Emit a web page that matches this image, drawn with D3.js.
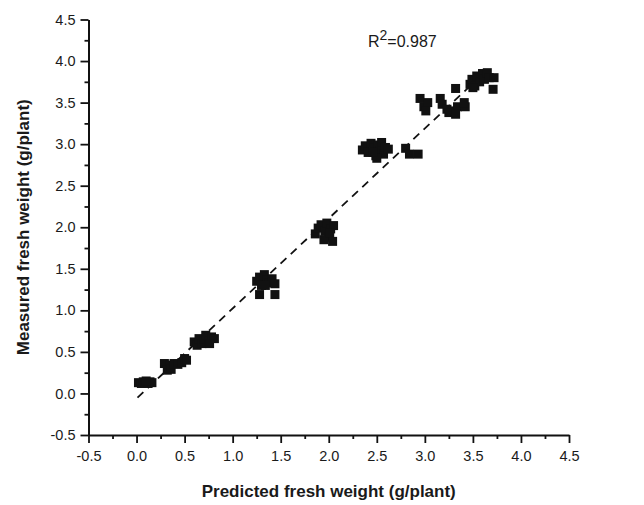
<!DOCTYPE html>
<html>
<head>
<meta charset="utf-8">
<script src="https://cdn.jsdelivr.net/npm/d3@7"></script>
<style>
  body { margin: 0; background: #fff; }
  svg { display: block; font-family: "Liberation Sans", Arial, sans-serif; }
</style>
</head>
<body>
<svg id="chart"></svg>
<script>
// Data (predicted vs measured fresh weight, g/plant)
const predicted = [
  0.02, 0.05, 0.07, 0.09, 0.12, 0.14, 0.16, 0.10,
  0.29, 0.32, 0.35, 0.36, 0.39, 0.43, 0.47, 0.50, 0.52,
  0.60, 0.63, 0.65, 0.68, 0.70, 0.72, 0.75, 0.78, 0.81, 0.76,
  1.25, 1.28, 1.30, 1.33, 1.36, 1.38, 1.41, 1.44, 1.28, 1.44, 1.34,
  1.86, 1.89, 1.92, 1.96, 1.98, 2.00, 2.02, 2.04, 2.05, 1.95, 2.01,
  2.35, 2.38, 2.41, 2.44, 2.47, 2.49, 2.51, 2.53, 2.55, 2.57, 2.59, 2.62, 2.50, 2.46,
  2.80, 2.84, 2.93,
  2.95, 2.99, 3.03, 3.01, 3.16, 3.18, 3.23, 3.28, 3.34, 3.25, 3.32, 3.42, 3.41,
  3.32, 3.47, 3.49, 3.52, 3.54, 3.57, 3.60, 3.62, 3.65, 3.67, 3.72, 3.71, 3.50
];
const measured = [
  0.13, 0.12, 0.14, 0.13, 0.12, 0.14, 0.13, 0.15,
  0.36, 0.28, 0.34, 0.29, 0.36, 0.35, 0.37, 0.42, 0.40,
  0.62, 0.58, 0.66, 0.60, 0.65, 0.70, 0.63, 0.68, 0.66, 0.60,
  1.35, 1.40, 1.30, 1.43, 1.37, 1.33, 1.38, 1.32, 1.19, 1.19, 1.30,
  1.92, 1.99, 2.03, 1.95, 2.05, 1.88, 1.98, 1.83, 2.02, 1.85, 1.93,
  2.93, 2.98, 2.90, 3.01, 2.95, 2.86, 2.99, 2.92, 3.02, 2.88, 2.96, 2.94, 2.83, 2.90,
  2.95, 2.88, 2.88,
  3.55, 3.45, 3.50, 3.40, 3.55, 3.48, 3.42, 3.40, 3.45, 3.38, 3.36, 3.45, 3.50,
  3.67, 3.72, 3.78, 3.70, 3.82, 3.75, 3.85, 3.78, 3.86, 3.80, 3.80, 3.66, 3.68
];

// Fitted line end points
const fitX = [0.01, 3.49];
const fitY = [-0.05, 3.72];

const majorTicks = [-0.5, 0.0, 0.5, 1.0, 1.5, 2.0, 2.5, 3.0, 3.5, 4.0, 4.5];
const minorTicks = [-0.25, 0.25, 0.75, 1.25, 1.75, 2.25, 2.75, 3.25, 3.75, 4.25];

const W = 644, H = 505;
const plotLeft = 88.5, plotRight = 569, plotTop = 19.5, plotBottom = 435;

const svg = d3.select("#chart").attr("width", W).attr("height", H);

const x = d3.scaleLinear().domain([-0.5, 4.5]).range([plotLeft, plotRight]);
const y = d3.scaleLinear().domain([-0.5, 4.5]).range([plotBottom, plotTop]);

// plain hyphen for negatives, as in the original
const fmt = d => d3.format(".1f")(d).replace("\u2212", "-");

// Axes: major ticks with labels, minor ticks without
svg.append("g").attr("transform", `translate(0,${plotBottom})`)
    .call(d3.axisBottom(x).tickValues(majorTicks).tickSize(8).tickSizeOuter(0).tickPadding(8)
      .tickFormat(fmt));
svg.append("g").attr("transform", `translate(0,${plotBottom})`)
    .call(d3.axisBottom(x).tickValues(minorTicks).tickSize(4).tickSizeOuter(0).tickFormat(""))
    .select(".domain").remove();

svg.append("g").attr("transform", `translate(${plotLeft},0)`)
    .call(d3.axisLeft(y).tickValues(majorTicks).tickSize(8).tickSizeOuter(0).tickPadding(5)
      .tickFormat(fmt));
svg.append("g").attr("transform", `translate(${plotLeft},0)`)
    .call(d3.axisLeft(y).tickValues(minorTicks).tickSize(4).tickSizeOuter(0).tickFormat(""))
    .select(".domain").remove();

svg.selectAll(".domain").attr("stroke", "#111").attr("stroke-width", 2);
svg.selectAll(".tick line").attr("stroke", "#111").attr("stroke-width", 1.8);
svg.selectAll(".tick text")
    .attr("fill", "#1a1a1a")
    .style("font-size", "14.5px")
    .style("font-family", "Liberation Sans, Arial, sans-serif");

// Dashed fit line
svg.append("line")
    .attr("x1", x(fitX[0])).attr("y1", y(fitY[0]))
    .attr("x2", x(fitX[1])).attr("y2", y(fitY[1]))
    .attr("stroke", "#111")
    .attr("stroke-width", 1.8)
    .attr("stroke-dasharray", "8,6");

// Square markers
const s = 9;
svg.append("g").selectAll("rect")
    .data(predicted.map((p, i) => ({ p, m: measured[i] })))
    .enter().append("rect")
    .attr("x", d => x(d.p) - s / 2)
    .attr("y", d => y(d.m) - s / 2)
    .attr("width", s)
    .attr("height", s)
    .attr("fill", "#111");

// R^2 annotation
const r2 = svg.append("text")
    .attr("x", 368).attr("y", 47)
    .attr("fill", "#1a1a1a")
    .style("font-size", "16px");
r2.append("tspan").text("R");
r2.append("tspan").attr("dy", -7).style("font-size", "14px").text("2");
r2.append("tspan").attr("dy", 7).text("=0.987");

// Axis titles
svg.append("text")
    .attr("x", (plotLeft + plotRight) / 2).attr("y", 497)
    .attr("text-anchor", "middle")
    .attr("fill", "#1a1a1a")
    .style("font-size", "17px").style("font-weight", "bold")
    .text("Predicted fresh weight (g/plant)");

svg.append("text")
    .attr("transform", `translate(29,${(plotTop + plotBottom) / 2}) rotate(-90)`)
    .attr("text-anchor", "middle")
    .attr("fill", "#1a1a1a")
    .style("font-size", "17px").style("font-weight", "bold")
    .text("Measured fresh weight (g/plant)");
</script>
</body>
</html>
